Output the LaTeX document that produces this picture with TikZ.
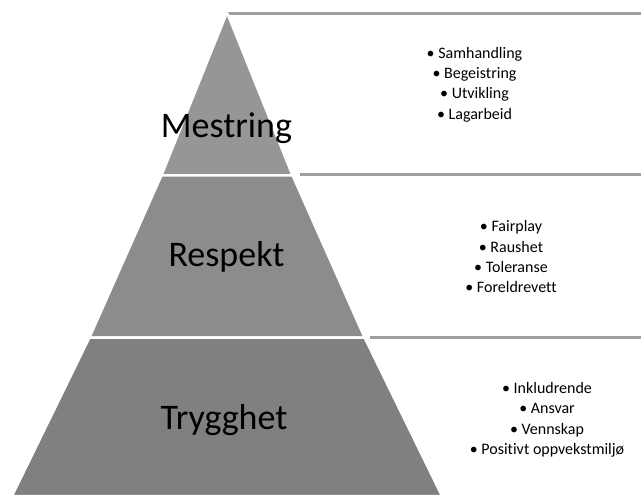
\documentclass[tikz,border=0pt]{standalone}
\usepackage{fontspec}
\setmainfont{Carlito}[Ligatures=NoCommon]
\definecolor{tierA}{gray}{0.59}
\definecolor{tierB}{gray}{0.55}
\definecolor{tierC}{gray}{0.50}
\definecolor{rule}{gray}{0.62}
\begin{document}
\begin{tikzpicture}[x=1pt,y=-1pt,
  tier/.style={draw=white,line width=2.5pt,line join=miter},
  ruleline/.style={draw=rule,line width=3pt},
  big/.style={anchor=base,inner sep=0pt,font=\fontsize{36}{43}\selectfont},
  item/.style={anchor=base,inner sep=0pt,font=\fontsize{16}{20}\selectfont}]
\useasboundingbox (0,0) rectangle (641,496);
% coordinates
\coordinate (apex) at (227,12.5);
\coordinate (l1) at (161.5,175.3);
\coordinate (r1) at (292.5,175.3);
\coordinate (l2) at (89.4,337.6);
\coordinate (r2) at (364.6,337.6);
\coordinate (bl) at (12,496);
\coordinate (br) at (442,496);
% right-hand rules
\coordinate (e0) at (641,13.5);
\coordinate (s1) at (300,174.8);
\coordinate (e1) at (641,174.8);
\coordinate (s2) at (370,337.8);
\coordinate (e2) at (641,337.8);
\draw[ruleline] (apex) ++(1,1) -- (e0);
\draw[ruleline] (s1) -- (e1);
\draw[ruleline] (s2) -- (e2);
% tiers
\path[tier,fill=tierA] (apex) -- (r1) -- (l1) -- cycle;
\path[tier,fill=tierB] (l1) -- (r1) -- (r2) -- (l2) -- cycle;
\path[tier,fill=tierC] (l2) -- (r2) -- (br) -- (bl) -- cycle;
% labels
\node[big] (mestring) at (226.5,137) {Mestring};
\node[big] (respekt) at (226.5,266) {Respekt};
\node[big] (trygghet) at (224,429) {Trygghet};
% lists
\node[item] (a1) at (474.5,58.3) {• Samhandling};
\node[item] (a2) at (474.5,78.6) {• Begeistring};
\node[item] (a3) at (474.5,98.9) {• Utvikling};
\node[item] (a4) at (474.5,119.2) {• Lagarbeid};
\node[item] (b1) at (511,231.7) {• Fairplay};
\node[item] (b2) at (511,252) {• Raushet};
\node[item] (b3) at (511,272.3) {• Toleranse};
\node[item] (b4) at (511,292.6) {• Foreldrevett};
\node[item] (c1) at (547,393) {• Inkludrende};
\node[item] (c2) at (547,413.5) {• Ansvar};
\node[item] (c3) at (547,434) {• Vennskap};
\node[item] (c4) at (547,454.5) {• Positivt oppvekstmiljø};
\end{tikzpicture}
\end{document}
